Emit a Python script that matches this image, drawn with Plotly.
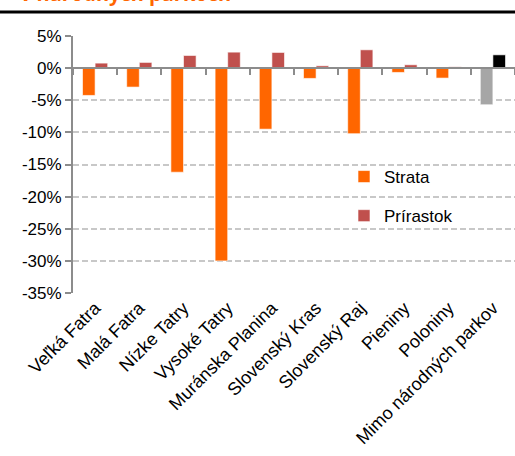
import plotly.graph_objects as go

categories = ["Veľká Fatra", "Malá Fatra", "Nízke Tatry", "Vysoké Tatry",
              "Muránska Planina", "Slovenský Kras", "Slovenský Raj",
              "Pieniny", "Poloniny", "Mimo národných parkov"]
strata = [-4.25, -2.95, -16.2, -30.0, -9.5, -1.6, -10.2, -0.67, -1.55, -5.7]
prirastok = [0.78, 0.89, 1.97, 2.49, 2.44, 0.36, 2.85, 0.52, 0.2, 2.07]
strata_colors = ["#FF6600"] * 9 + ["#A6A6A6"]
prirastok_colors = ["#C0504D"] * 9 + ["#000000"]
y_ticks = [5, 0, -5, -10, -15, -20, -25, -30, -35]
y_labels = [f"{v}%" for v in y_ticks]

FONT = "Liberation Sans, Arial, sans-serif"

fig = go.Figure()
fig.add_trace(go.Bar(name="Strata", x=categories, y=strata, legendgroup="s",
                     marker=dict(color=strata_colors,
                                 line=dict(color="rgba(255,255,255,0.6)", width=1))))
fig.add_trace(go.Bar(name="Prírastok", x=categories, y=prirastok, legendgroup="p",
                     marker=dict(color=prirastok_colors,
                                 line=dict(color="rgba(255,255,255,0.6)", width=1))))
# invisible helper trace for the zero-line axis with category boundary ticks
fig.add_trace(go.Scatter(x=categories, y=[0] * len(categories), xaxis="x2",
                         mode="lines", line=dict(width=0), opacity=0,
                         showlegend=False, hoverinfo="skip"))

PLOT_H = 257
PLOT_W = 442
fig.update_layout(
    width=515, height=456,
    margin=dict(l=73, r=0, t=36, b=163, autoexpand=False),
    paper_bgcolor="white", plot_bgcolor="white",
    barmode="group", bargap=0.43, bargroupgap=0,
    font=dict(family=FONT, size=17, color="#000000"),
    showlegend=True,
    legend=dict(x=(344 - 73) / PLOT_W, y=1 - (159 - 36) / PLOT_H, xanchor="left", yanchor="top",
                bgcolor="rgba(0,0,0,0)", font=dict(size=17, family=FONT),
                tracegroupgap=14, itemwidth=30),
    xaxis=dict(type="category", showline=False, ticks="", showgrid=False, automargin=False,
               tickangle=-45, tickfont=dict(size=18, family=FONT)),
    xaxis2=dict(type="category", overlaying="x", matches="x", anchor="free",
                position=35 / 40, showline=True, linecolor="#8C8C8C", linewidth=2,
                ticks="outside", tickson="boundaries", ticklen=6, tickwidth=2,
                tickcolor="#8C8C8C", showticklabels=False, showgrid=False, automargin=False),
    yaxis=dict(range=[-35, 5], tickvals=y_ticks, ticktext=y_labels, automargin=False,
               showline=True, linecolor="#8C8C8C", linewidth=2,
               ticks="outside", ticklen=6, tickwidth=2, tickcolor="#8C8C8C",
               showgrid=True, gridcolor="#C8C8C8", gridwidth=1.5, griddash="6px,3px",
               zeroline=False, tickfont=dict(size=17, family=FONT)),
    shapes=[dict(type="line", xref="paper", yref="paper",
                 x0=-73 / PLOT_W, x1=1.0, y0=1 + (36 - 12) / PLOT_H, y1=1 + (36 - 12) / PLOT_H,
                 line=dict(color="#000000", width=3))],
    annotations=[dict(text="<b>v národných parkoch</b>", xref="paper", yref="paper",
                      x=(18 - 73) / PLOT_W, y=1 + (36 - 9) / PLOT_H, xanchor="left", yanchor="bottom",
                      showarrow=False, font=dict(color="#FF6600", size=20, family="Open Sans, sans-serif"))],
)

fig.write_html("out.html", config={"displayModeBar": False},
               post_script="document.body.style.margin='0';document.body.style.overflow='hidden';")
